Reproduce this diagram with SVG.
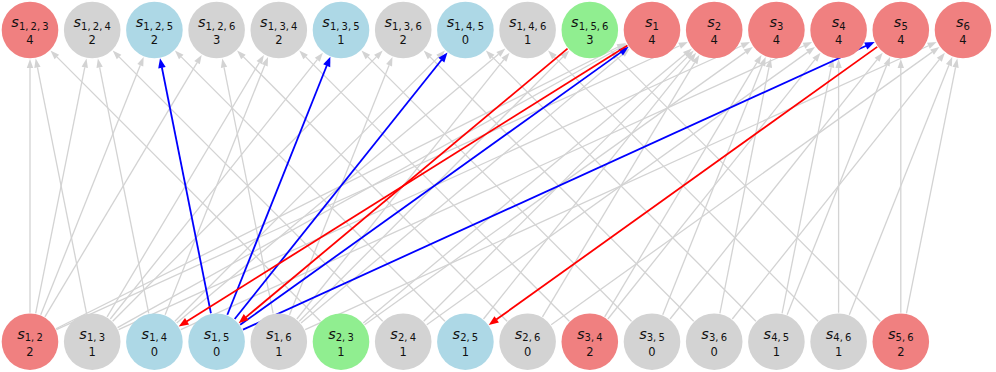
<svg xmlns="http://www.w3.org/2000/svg" width="996" height="372" viewBox="0 0 996 372">
<style>
.e{stroke:#d3d3d3;stroke-width:1.3;fill:none;marker-end:url(#ag)}
.b{stroke:#0000ff;stroke-width:1.8;fill:none;marker-end:url(#ab)}
.r{stroke:#ff0000;stroke-width:1.8;fill:none;marker-end:url(#ar)}
.c{fill:#f08080}.g{fill:#d3d3d3}.l{fill:#add8e6}.n{fill:#90ee90}
text{font-family:"DejaVu Sans","Liberation Sans",sans-serif;fill:#111;text-anchor:middle}
.s{font-size:14.5px;font-style:italic}
.sub{font-size:10px;font-style:normal;word-spacing:-1px}
.v{font-size:11.5px}
</style>
<defs>
<marker id="ag" viewBox="0 -5 11 10" refX="0" refY="0" markerWidth="11" markerHeight="10" markerUnits="userSpaceOnUse" orient="auto" overflow="visible"><path d="M0,-3.2 L9,0 L0,3.2 z" fill="#d3d3d3"/></marker>
<marker id="ab" viewBox="0 -5 11 10" refX="0" refY="0" markerWidth="11" markerHeight="10" markerUnits="userSpaceOnUse" orient="auto" overflow="visible"><path d="M-0.5,-3.8 L9.3,0 L-0.5,3.8 z" fill="#0000ff"/></marker>
<marker id="ar" viewBox="0 -5 11 10" refX="0" refY="0" markerWidth="11" markerHeight="10" markerUnits="userSpaceOnUse" orient="auto" overflow="visible"><path d="M-0.5,-3.8 L9.3,0 L-0.5,3.8 z" fill="#ff0000"/></marker>
</defs>
<g id="connectors">
<line class="e" x1="30" y1="312.7" x2="30" y2="68"/>
<line class="e" x1="35.68" y1="313.26" x2="84.76" y2="67.27"/>
<line class="e" x1="40.75" y1="314.76" x2="140.31" y2="65.29"/>
<line class="e" x1="44.89" y1="316.82" x2="197.08" y2="62.6"/>
<line class="e" x1="55.93" y1="328.71" x2="618.02" y2="47.02"/>
<line class="e" x1="56.39" y1="329.68" x2="679.62" y2="45.75"/>
<line class="e" x1="86.52" y1="313.26" x2="37.44" y2="67.27"/>
<line class="e" x1="107.09" y1="316.82" x2="259.28" y2="62.6"/>
<line class="e" x1="110.29" y1="319.03" x2="317.29" y2="59.7"/>
<line class="e" x1="112.68" y1="321.17" x2="376.36" y2="56.9"/>
<line class="e" x1="117.54" y1="327.59" x2="618.8" y2="48.49"/>
<line class="e" x1="118.59" y1="329.68" x2="741.82" y2="45.75"/>
<line class="e" x1="148.72" y1="313.26" x2="99.64" y2="67.27"/>
<line class="e" x1="165.15" y1="314.76" x2="264.71" y2="65.29"/>
<line class="e" x1="174.88" y1="321.17" x2="438.56" y2="56.9"/>
<line class="e" x1="176.66" y1="323.11" x2="498.43" y2="54.36"/>
<line class="e" x1="180.79" y1="329.68" x2="804.02" y2="45.75"/>
<line class="e" x1="273.12" y1="313.26" x2="224.04" y2="67.27"/>
<line class="e" x1="289.55" y1="314.76" x2="389.11" y2="65.29"/>
<line class="e" x1="296.89" y1="319.03" x2="503.89" y2="59.7"/>
<line class="e" x1="299.28" y1="321.17" x2="562.96" y2="56.9"/>
<line class="e" x1="301.06" y1="323.11" x2="622.83" y2="54.36"/>
<line class="e" x1="305.19" y1="329.68" x2="928.42" y2="45.75"/>
<line class="e" x1="320.52" y1="321.17" x2="56.84" y2="56.9"/>
<line class="e" x1="363.26" y1="323.11" x2="685.03" y2="54.36"/>
<line class="e" x1="364.58" y1="324.82" x2="745.5" y2="52.12"/>
<line class="e" x1="382.72" y1="321.17" x2="119.04" y2="56.9"/>
<line class="e" x1="423.68" y1="321.17" x2="687.36" y2="56.9"/>
<line class="e" x1="426.78" y1="324.82" x2="807.7" y2="52.12"/>
<line class="e" x1="444.92" y1="321.17" x2="181.24" y2="56.9"/>
<line class="e" x1="483.49" y1="319.03" x2="690.49" y2="59.7"/>
<line class="e" x1="507.12" y1="321.17" x2="243.44" y2="56.9"/>
<line class="e" x1="542.49" y1="316.82" x2="694.68" y2="62.6"/>
<line class="e" x1="551.18" y1="324.82" x2="932.1" y2="52.12"/>
<line class="e" x1="569.32" y1="321.17" x2="305.64" y2="56.9"/>
<line class="e" x1="604.69" y1="316.82" x2="756.88" y2="62.6"/>
<line class="e" x1="607.89" y1="319.03" x2="814.89" y2="59.7"/>
<line class="e" x1="631.52" y1="321.17" x2="367.84" y2="56.9"/>
<line class="e" x1="662.75" y1="314.76" x2="762.31" y2="65.29"/>
<line class="e" x1="670.09" y1="319.03" x2="877.09" y2="59.7"/>
<line class="e" x1="693.72" y1="321.17" x2="430.04" y2="56.9"/>
<line class="e" x1="719.88" y1="313.26" x2="768.96" y2="67.27"/>
<line class="e" x1="732.29" y1="319.03" x2="939.29" y2="59.7"/>
<line class="e" x1="755.92" y1="321.17" x2="492.24" y2="56.9"/>
<line class="e" x1="782.08" y1="313.26" x2="831.16" y2="67.27"/>
<line class="e" x1="787.15" y1="314.76" x2="886.71" y2="65.29"/>
<line class="e" x1="818.12" y1="321.17" x2="554.44" y2="56.9"/>
<line class="e" x1="838.6" y1="312.7" x2="838.6" y2="68"/>
<line class="e" x1="849.35" y1="314.76" x2="948.91" y2="65.29"/>
<line class="e" x1="880.32" y1="321.17" x2="616.64" y2="56.9"/>
<line class="e" x1="900.8" y1="312.7" x2="900.8" y2="68"/>
<line class="e" x1="906.48" y1="313.26" x2="955.56" y2="67.27"/>
<line class="b" x1="210.92" y1="313.26" x2="161.84" y2="67.27"/>
<line class="b" x1="227.35" y1="314.76" x2="326.91" y2="65.29"/>
<line class="b" x1="234.69" y1="319.03" x2="441.69" y2="59.7"/>
<line class="b" x1="240.18" y1="324.82" x2="621.1" y2="52.12"/>
<line class="b" x1="242.99" y1="329.68" x2="866.22" y2="45.75"/>
<line class="r" x1="627.43" y1="45.39" x2="186.6" y2="321.53"/>
<line class="r" x1="567.54" y1="48.59" x2="245.77" y2="317.34"/>
<line class="r" x1="877.22" y1="46.88" x2="496.3" y2="319.58"/>
</g>
<g id="nodes">
<g id="s123"><circle class="c" cx="30" cy="30" r="28.3"/><text x="30" y="27"><tspan class="s">s</tspan><tspan class="sub" dy="2.5">1, 2, 3</tspan></text><text class="v" x="30" y="44">4</text></g>
<g id="s124"><circle class="g" cx="92.2" cy="30" r="28.3"/><text x="92.2" y="27"><tspan class="s">s</tspan><tspan class="sub" dy="2.5">1, 2, 4</tspan></text><text class="v" x="92.2" y="44">2</text></g>
<g id="s125"><circle class="l" cx="154.4" cy="30" r="28.3"/><text x="154.4" y="27"><tspan class="s">s</tspan><tspan class="sub" dy="2.5">1, 2, 5</tspan></text><text class="v" x="154.4" y="44">2</text></g>
<g id="s126"><circle class="g" cx="216.6" cy="30" r="28.3"/><text x="216.6" y="27"><tspan class="s">s</tspan><tspan class="sub" dy="2.5">1, 2, 6</tspan></text><text class="v" x="216.6" y="44">3</text></g>
<g id="s134"><circle class="g" cx="278.8" cy="30" r="28.3"/><text x="278.8" y="27"><tspan class="s">s</tspan><tspan class="sub" dy="2.5">1, 3, 4</tspan></text><text class="v" x="278.8" y="44">2</text></g>
<g id="s135"><circle class="l" cx="341" cy="30" r="28.3"/><text x="341" y="27"><tspan class="s">s</tspan><tspan class="sub" dy="2.5">1, 3, 5</tspan></text><text class="v" x="341" y="44">1</text></g>
<g id="s136"><circle class="g" cx="403.2" cy="30" r="28.3"/><text x="403.2" y="27"><tspan class="s">s</tspan><tspan class="sub" dy="2.5">1, 3, 6</tspan></text><text class="v" x="403.2" y="44">2</text></g>
<g id="s145"><circle class="l" cx="465.4" cy="30" r="28.3"/><text x="465.4" y="27"><tspan class="s">s</tspan><tspan class="sub" dy="2.5">1, 4, 5</tspan></text><text class="v" x="465.4" y="44">0</text></g>
<g id="s146"><circle class="g" cx="527.6" cy="30" r="28.3"/><text x="527.6" y="27"><tspan class="s">s</tspan><tspan class="sub" dy="2.5">1, 4, 6</tspan></text><text class="v" x="527.6" y="44">1</text></g>
<g id="s156"><circle class="n" cx="589.8" cy="30" r="28.3"/><text x="589.8" y="27"><tspan class="s">s</tspan><tspan class="sub" dy="2.5">1, 5, 6</tspan></text><text class="v" x="589.8" y="44">3</text></g>
<g id="s1"><circle class="c" cx="652" cy="30" r="28.3"/><text x="652" y="27"><tspan class="s">s</tspan><tspan class="sub" dy="2.5">1</tspan></text><text class="v" x="652" y="44">4</text></g>
<g id="s2"><circle class="c" cx="714.2" cy="30" r="28.3"/><text x="714.2" y="27"><tspan class="s">s</tspan><tspan class="sub" dy="2.5">2</tspan></text><text class="v" x="714.2" y="44">4</text></g>
<g id="s3"><circle class="c" cx="776.4" cy="30" r="28.3"/><text x="776.4" y="27"><tspan class="s">s</tspan><tspan class="sub" dy="2.5">3</tspan></text><text class="v" x="776.4" y="44">4</text></g>
<g id="s4"><circle class="c" cx="838.6" cy="30" r="28.3"/><text x="838.6" y="27"><tspan class="s">s</tspan><tspan class="sub" dy="2.5">4</tspan></text><text class="v" x="838.6" y="44">4</text></g>
<g id="s5"><circle class="c" cx="900.8" cy="30" r="28.3"/><text x="900.8" y="27"><tspan class="s">s</tspan><tspan class="sub" dy="2.5">5</tspan></text><text class="v" x="900.8" y="44">4</text></g>
<g id="s6"><circle class="c" cx="963" cy="30" r="28.3"/><text x="963" y="27"><tspan class="s">s</tspan><tspan class="sub" dy="2.5">6</tspan></text><text class="v" x="963" y="44">4</text></g>
<g id="s12"><circle class="c" cx="30" cy="341.7" r="28.3"/><text x="30" y="338.7"><tspan class="s">s</tspan><tspan class="sub" dy="2.5">1, 2</tspan></text><text class="v" x="30" y="355.7">2</text></g>
<g id="s13"><circle class="g" cx="92.2" cy="341.7" r="28.3"/><text x="92.2" y="338.7"><tspan class="s">s</tspan><tspan class="sub" dy="2.5">1, 3</tspan></text><text class="v" x="92.2" y="355.7">1</text></g>
<g id="s14"><circle class="l" cx="154.4" cy="341.7" r="28.3"/><text x="154.4" y="338.7"><tspan class="s">s</tspan><tspan class="sub" dy="2.5">1, 4</tspan></text><text class="v" x="154.4" y="355.7">0</text></g>
<g id="s15"><circle class="l" cx="216.6" cy="341.7" r="28.3"/><text x="216.6" y="338.7"><tspan class="s">s</tspan><tspan class="sub" dy="2.5">1, 5</tspan></text><text class="v" x="216.6" y="355.7">0</text></g>
<g id="s16"><circle class="g" cx="278.8" cy="341.7" r="28.3"/><text x="278.8" y="338.7"><tspan class="s">s</tspan><tspan class="sub" dy="2.5">1, 6</tspan></text><text class="v" x="278.8" y="355.7">1</text></g>
<g id="s23"><circle class="n" cx="341" cy="341.7" r="28.3"/><text x="341" y="338.7"><tspan class="s">s</tspan><tspan class="sub" dy="2.5">2, 3</tspan></text><text class="v" x="341" y="355.7">1</text></g>
<g id="s24"><circle class="g" cx="403.2" cy="341.7" r="28.3"/><text x="403.2" y="338.7"><tspan class="s">s</tspan><tspan class="sub" dy="2.5">2, 4</tspan></text><text class="v" x="403.2" y="355.7">1</text></g>
<g id="s25"><circle class="l" cx="465.4" cy="341.7" r="28.3"/><text x="465.4" y="338.7"><tspan class="s">s</tspan><tspan class="sub" dy="2.5">2, 5</tspan></text><text class="v" x="465.4" y="355.7">1</text></g>
<g id="s26"><circle class="g" cx="527.6" cy="341.7" r="28.3"/><text x="527.6" y="338.7"><tspan class="s">s</tspan><tspan class="sub" dy="2.5">2, 6</tspan></text><text class="v" x="527.6" y="355.7">0</text></g>
<g id="s34"><circle class="c" cx="589.8" cy="341.7" r="28.3"/><text x="589.8" y="338.7"><tspan class="s">s</tspan><tspan class="sub" dy="2.5">3, 4</tspan></text><text class="v" x="589.8" y="355.7">2</text></g>
<g id="s35"><circle class="g" cx="652" cy="341.7" r="28.3"/><text x="652" y="338.7"><tspan class="s">s</tspan><tspan class="sub" dy="2.5">3, 5</tspan></text><text class="v" x="652" y="355.7">0</text></g>
<g id="s36"><circle class="g" cx="714.2" cy="341.7" r="28.3"/><text x="714.2" y="338.7"><tspan class="s">s</tspan><tspan class="sub" dy="2.5">3, 6</tspan></text><text class="v" x="714.2" y="355.7">0</text></g>
<g id="s45"><circle class="g" cx="776.4" cy="341.7" r="28.3"/><text x="776.4" y="338.7"><tspan class="s">s</tspan><tspan class="sub" dy="2.5">4, 5</tspan></text><text class="v" x="776.4" y="355.7">1</text></g>
<g id="s46"><circle class="g" cx="838.6" cy="341.7" r="28.3"/><text x="838.6" y="338.7"><tspan class="s">s</tspan><tspan class="sub" dy="2.5">4, 6</tspan></text><text class="v" x="838.6" y="355.7">1</text></g>
<g id="s56"><circle class="c" cx="900.8" cy="341.7" r="28.3"/><text x="900.8" y="338.7"><tspan class="s">s</tspan><tspan class="sub" dy="2.5">5, 6</tspan></text><text class="v" x="900.8" y="355.7">2</text></g>
</g>
</svg>
